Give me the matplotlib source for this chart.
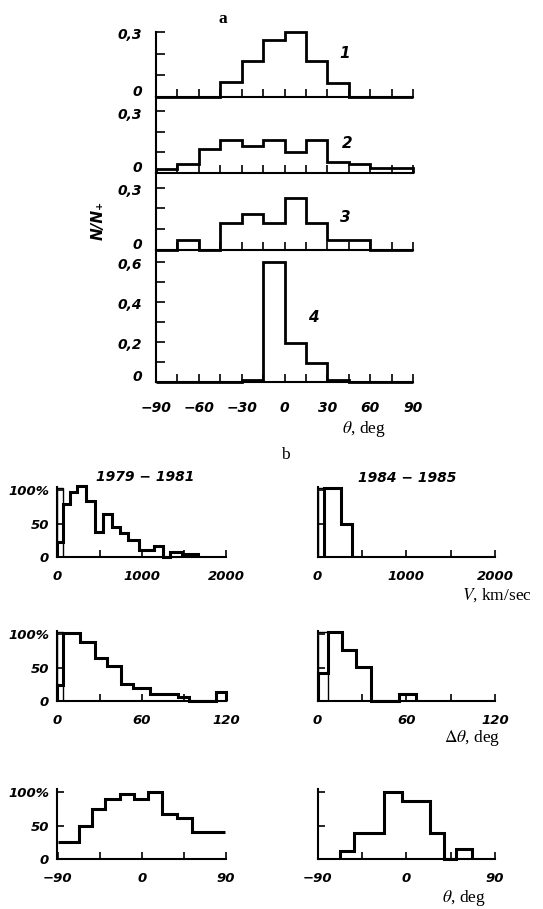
import numpy as np
import matplotlib.pyplot as plt

plt.rcParams['mathtext.fontset'] = 'stix'

# ---- panel a: N/N+ versus theta, 15 deg bins ----
theta_edges = [-90, -75, -60, -45, -30, -15, 0, 15, 30, 45, 60, 75, 90]
frac_1 = [0, 0, 0, 0.07, 0.165, 0.265, 0.30, 0.165, 0.065, 0, 0, 0]
frac_2 = [0.02, 0.045, 0.115, 0.16, 0.13, 0.16, 0.10, 0.16, 0.055, 0.043, 0.026, 0.026]
frac_3 = [0, 0.048, 0, 0.13, 0.175, 0.13, 0.25, 0.13, 0.048, 0.048, 0, 0]
frac_4 = [0, 0, 0, 0, 0.008, 0.60, 0.195, 0.095, 0.008, 0, 0, 0]

# ---- panel b: percentage histograms, 1979-1981 (left) and 1984-1985 (right) ----
v_edges_79 = [0, 65, 145, 230, 340, 450, 542, 642, 738, 840, 970, 1140, 1258, 1338, 1482, 1665]
v_pct_79 = [22, 80, 98, 106, 84, 38, 64, 45, 36, 25, 11, 17, 0, 8, 4]
v_edges_84 = [70, 270, 385]
v_pct_84 = [103, 50]

dth_edges_79 = [0, 4, 16, 27, 35.5, 45.5, 54, 66, 86, 94, 113, 120]
dth_pct_79 = [23.5, 102.5, 88, 64, 52, 25.5, 20, 11, 6, 0.5, 13.5]
dth_edges_84 = [0, 7, 16.4, 26, 36, 55, 66.5]
dth_pct_84 = [42, 104, 77, 51, 0, 11]

th_edges_79 = [-90, -67, -53, -39, -23.5, -8, 7, 22, 38, 54, 89]
th_pct_79 = [26, 50, 75, 90, 98, 90, 101, 68, 61, 40]
th_edges_84 = [-67, -53, -23, -4.5, 24, 38.5, 50.5, 66.3]
th_pct_84 = [12, 39, 100, 87, 39, 0, 15]

# first (narrow) bin drawn as thin box: width, height
first_box = {'v79': (60, 104), 'v84': (70, 103), 'd79': (4, 104), 'd84': (7, 104)}

W, H = 543, 909
fig = plt.figure(figsize=(W / 100, H / 100), dpi=100)
tick_font = dict(family='DejaVu Sans', style='italic', weight='bold')


def add_ax(x0, y0, x1, y1):
    ax = fig.add_axes([x0 / W, 1 - y1 / H, (x1 - x0) / W, (y1 - y0) / H])
    ax.patch.set_visible(False)
    ax.spines['top'].set_visible(False)
    ax.spines['right'].set_visible(False)
    ax.spines['left'].set_linewidth(1.5)
    ax.spines['bottom'].set_linewidth(1.5)
    return ax


# panel a
a_rows = [
    (frac_1, 32, 97, 0.30, [0, 0.1, 0.2, 0.3], ['0', '', '', '0,3'], '1', 345, 53),
    (frac_2, 97, 173, 0.37, [0, 0.1, 0.2, 0.3], ['0', '', '', '0,3'], '2', 347, 143),
    (frac_3, 173, 250, 0.37, [0, 0.1, 0.2, 0.3], ['0', '', '', '0,3'], '3', 345, 217),
    (frac_4, 250, 382, 0.66, [0, 0.1, 0.2, 0.3, 0.4, 0.5, 0.6],
     ['0', '', '0,2', '', '0,4', '', '0,6'], '4', 313, 317),
]
xt = np.arange(-90, 91, 15)
xl = ['\u221290', '', '\u221260', '', '\u221230', '', '0', '', '30', '', '60', '', '90']
for i, (vals, y0, y1, top, yt, yl, num, nx, ny) in enumerate(a_rows):
    ax = add_ax(156, y0, 413, y1)
    ax.stairs(vals, theta_edges, baseline=0, color='black', lw=2.0, clip_on=False)
    ax.set_xlim(-90, 90)
    ax.set_ylim(0, top)
    ax.set_yticks(yt)
    ax.set_yticklabels([])
    # y labels placed by hand: "0" sits a little above its tick, the others a little below
    for val, lab in zip(yt, yl):
        if lab:
            dy = 3.5 if lab == '0' else -2.5
            ax.annotate(lab, xy=(0, val), xycoords=('axes fraction', 'data'),
                        xytext=(-10, dy), textcoords='offset points',
                        ha='right', va='center', fontsize=10, **tick_font)
    ax.set_xticks(xt)
    ax.tick_params(axis='y', direction='in', length=6.5, width=1.2)
    ax.tick_params(axis='x', direction='in', length=5.5, width=1.2, pad=14)
    if i == 3:
        ax.set_xticklabels(xl, fontsize=10, **tick_font)
    else:
        ax.tick_params(labelbottom=False)
    fig.text(nx / W, 1 - ny / H, num, fontsize=11, ha='center', va='center', **tick_font)

fig.text(98 / W, 1 - 220 / H, 'N/N\u208a', rotation=90, fontsize=11,
         ha='center', va='center', **tick_font)
fig.text(223 / W, 1 - 19 / H, 'a', family='Liberation Serif', weight='bold',
         fontsize=12.5, ha='center', va='center')
fig.text(364 / W, 1 - 429 / H, r'$\theta$, deg', family='Liberation Serif',
         fontsize=12.5, ha='center', va='center')
fig.text(285 / W, 1 - 455 / H, 'b', family='Liberation Serif', fontsize=12.5,
         ha='center', va='center')

# panel b
b_cols = [57.5, 226, 317.5, 495]
b_rows = [
    (487, 557, (0, 2000), [0, 500, 1000, 1500, 2000], ['0', '', '1000', '', '2000'],
     (v_edges_79, v_pct_79, 'v79'), (v_edges_84, v_pct_84, 'v84')),
    (631, 701, (0, 120), [0, 30, 60, 90, 120], ['0', '', '60', '', '120'],
     (dth_edges_79, dth_pct_79, 'd79'), (dth_edges_84, dth_pct_84, 'd84')),
    (789, 859, (-90, 90), [-90, -45, 0, 45, 90], ['\u221290', '', '0', '', '90'],
     (th_edges_79, th_pct_79, None), (th_edges_84, th_pct_84, None)),
]
for y0, y1, xlim, xticks, xlabels, left, right in b_rows:
    for c, (edges, pct, box) in enumerate([left, right]):
        ax = add_ax(b_cols[2 * c], y0, b_cols[2 * c + 1], y1)
        base = None if (box is None and c == 0) else 0
        ax.stairs(pct, edges, baseline=base, color='black', lw=2.2, clip_on=False)
        if box is not None:
            w, h = first_box[box]
            ax.stairs([h], [0, w], baseline=0, color='black', lw=1.0, clip_on=False)
        ax.set_xlim(*xlim)
        ax.set_ylim(0, 105)
        ax.set_xticks(xticks)
        ax.set_xticklabels(xlabels, fontsize=9.5, **tick_font)
        ax.set_yticks([0, 50, 100])
        if c == 0:
            ax.set_yticklabels(['0', '50', '100%'], fontsize=9.5, **tick_font)
        else:
            ax.tick_params(labelleft=False)
        ax.tick_params(axis='x', direction='in', length=5, width=1.2, pad=9)
        ax.tick_params(axis='y', direction='in', length=5, width=1.2, pad=6)

fig.text(145 / W, 1 - 477 / H, '1979 \u2212 1981', fontsize=10, ha='center', va='center',
         **tick_font)
fig.text(407 / W, 1 - 478 / H, '1984 \u2212 1985', fontsize=10, ha='center', va='center',
         **tick_font)
fig.text(497 / W, 1 - 595 / H, r'$V$, km/sec', family='Liberation Serif',
         fontsize=12.5, ha='center', va='center')
fig.text(472 / W, 1 - 738 / H, r'$\Delta\theta$, deg', family='Liberation Serif',
         fontsize=12.5, ha='center', va='center')
fig.text(464 / W, 1 - 898 / H, r'$\theta$, deg', family='Liberation Serif',
         fontsize=12.5, ha='center', va='center')

fig.savefig('out.png', dpi=100, facecolor='white')
